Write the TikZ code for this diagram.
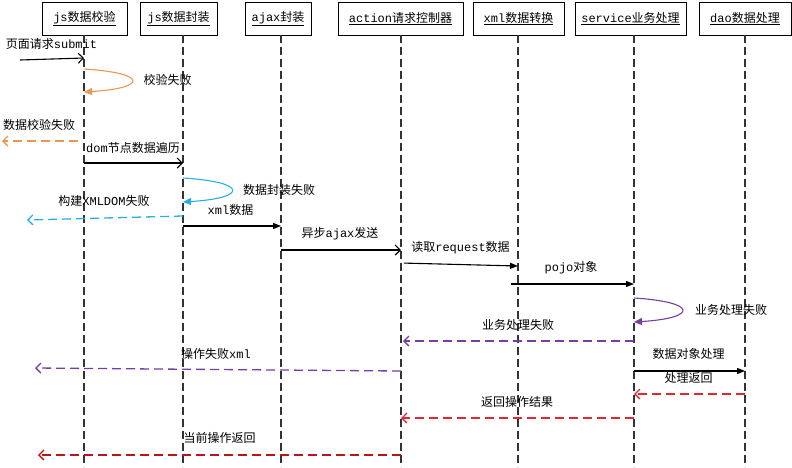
\documentclass[tikz,border=0pt]{standalone}
\usepackage{fontspec}
\setmainfont{Liberation Mono}
\newfontfamily\cjk{Noto Sans CJK SC}
\usetikzlibrary{arrows.meta}
\definecolor{corange}{RGB}{236,150,80}
\definecolor{cblue}{RGB}{40,175,225}
\definecolor{cpurple}{RGB}{120,60,165}
\definecolor{cred}{RGB}{225,40,50}
\definecolor{cdred}{RGB}{192,20,20}
\begin{document}
\begin{tikzpicture}[x=1pt,y=-1pt,
  box/.style={draw, line width=1pt, minimum height=33pt, inner sep=0pt, font=\fontsize{12}{14}\selectfont},
  lifeline/.style={draw=black!80, dash pattern=on 8pt off 4pt, line width=1.2pt},
  lbl/.style={inner sep=0pt, font=\fontsize{12}{14}\selectfont},
  msg/.style={line width=1.1pt, -{Triangle[length=8pt,width=6pt]}},
  openmsg/.style={line width=1.1pt, -{Straight Barb[length=5pt,width=10pt]}},
  ret/.style={openmsg, line width=1.3pt, dash pattern=on 9pt off 5pt},
  selfloop/.style={line width=1.1pt, -{Triangle[length=8pt,width=7pt]}}]
\useasboundingbox (0,0) rectangle (792,467);
% boxes
\node[box, minimum width=85pt]  (b1) at (84.5,18.5)  {\underline{js{\cjk 数据校验}}};
\node[box, minimum width=77pt]  (b2) at (178.5,18.5) {\underline{js{\cjk 数据封装}}};
\node[box, minimum width=66pt]  (b3) at (278,18.5)   {\underline{ajax{\cjk 封装}}};
\node[box, minimum width=125pt] (b4) at (400.5,18.5) {\underline{action{\cjk 请求控制器}}};
\node[box, minimum width=91pt]  (b5) at (518.5,18.5) {\underline{xml{\cjk 数据转换}}};
\node[box, minimum width=111pt] (b6) at (630.5,18.5) {\underline{service{\cjk 业务处理}}};
\node[box, minimum width=92pt]  (b7) at (745,18.5)   {\underline{dao{\cjk 数据处理}}};
% lifelines
\coordinate (l1) at (84,35);
\coordinate (l2) at (183,35);
\coordinate (l3) at (281,35);
\coordinate (l4) at (401,35);
\coordinate (l5) at (518,35);
\coordinate (l6) at (634,35);
\coordinate (l7) at (745,35);
\foreach \i in {1,...,7} {\draw[lifeline] (l\i) -- (l\i |- 0,467);}
% free ends
\coordinate (s0) at (20,60);
\coordinate (e3) at (2,141);
\coordinate (e6) at (27,220);
\coordinate (e13) at (35,368);
\coordinate (e17) at (38,455);
% labels
\node[lbl] (t1) at (51.5,44) {{\cjk 页面请求}submit};
\node[lbl] (t2) at (167.5,80) {\cjk 校验失败};
\node[lbl] (t3) at (39,125) {\cjk 数据校验失败};
\node[lbl] (t4) at (133,148) {dom{\cjk 节点数据遍历}};
\node[lbl] (t5) at (279,190) {\cjk 数据封装失败};
\node[lbl] (t6) at (104,201) {{\cjk 构建}XMLDOM{\cjk 失败}};
\node[lbl] (t7) at (230.5,210) {xml{\cjk 数据}};
\node[lbl] (t8) at (340,234) {{\cjk 异步}ajax{\cjk 发送}};
\node[lbl] (t9) at (460.5,248) {{\cjk 读取}request{\cjk 数据}};
\node[lbl] (t10) at (571,268) {pojo{\cjk 对象}};
\node[lbl] (t11) at (731,310) {\cjk 业务处理失败};
\node[lbl] (t12) at (518,325) {\cjk 业务处理失败};
\node[lbl] (t13) at (216,354) {{\cjk 操作失败}xml};
\node[lbl] (t14) at (688.5,354) {\cjk 数据对象处理};
\node[lbl] (t15) at (688.5,378) {\cjk 处理返回};
\node[lbl] (t16) at (517,402) {\cjk 返回操作结果};
\node[lbl] (t17) at (219.5,438) {\cjk 当前操作返回};
% messages
\draw[openmsg] (s0) -- (l1 |- 0,58);
\draw[selfloop, corange] (l1 |- 0,69) .. controls (148,73) and (148,88) .. (l1 |- 0,92);
\draw[ret, corange, shorten <=6pt] (l1 |- 0,141) -- (e3);
\draw[openmsg] (l1 |- 0,163) -- (l2 |- 0,163);
\draw[selfloop, cblue] (l2 |- 0,178) .. controls (248,182) and (248,198) .. (l2 |- 0,202);
\draw[ret, cblue] (l2 |- 0,216) -- (e6);
\draw[msg] (l2 |- 0,226) -- (l3 |- 0,226);
\draw[openmsg] (l3 |- 0,250) -- (l4 |- 0,250);
\draw[msg, shorten <=3pt] (l4 |- 0,263) -- (l5 |- 0,266);
\draw[msg, shorten <=-7pt] (l5 |- 0,284) -- (l6 |- 0,284);
\draw[selfloop, cpurple] (l6 |- 0,298) .. controls (698,302) and (698,318) .. (l6 |- 0,322);
\draw[ret, cpurple, shorten >=2pt] (l6 |- 0,341) -- (l4 |- 0,341);
\draw[ret, cpurple] (l4 |- 0,371) -- (e13);
\draw[msg] (l6 |- 0,371) -- (l7 |- 0,371);
\draw[ret, cred] (l7 |- 0,394) -- (l6 |- 0,394);
\draw[ret, cred] (l6 |- 0,418) -- (l4 |- 0,418);
\draw[ret, cdred] (l4 |- 0,455) -- (e17);
\end{tikzpicture}
\end{document}
